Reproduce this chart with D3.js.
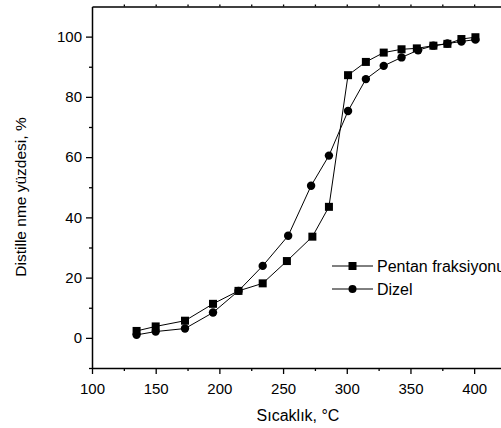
<!DOCTYPE html>
<html>
<head>
<meta charset="utf-8">
<script src="https://cdn.jsdelivr.net/npm/d3@7/dist/d3.min.js"></script>
<style>
  body { margin: 0; background: #fff; }
  svg { display: block; font-family: "Liberation Sans", Arial, sans-serif; }
  .line { fill: none; stroke: #000; stroke-width: 1; }
</style>
</head>
<body>
<script>
// temperatures (°C) and distilled fraction (%)
const pentanTemp = [135, 150, 173, 195, 215, 234, 253, 273, 286, 301, 315, 329, 343, 355, 368, 379, 390, 401];
const pentanVal = [2.3, 3.8, 5.7, 11.3, 15.6, 18.1, 25.5, 33.6, 43.5, 87.2, 91.6, 94.7, 95.8, 96.1, 97.0, 97.6, 99.2, 99.8];
const dizelTemp = [135, 150, 173, 195, 215, 234, 254, 272, 286, 301, 315, 329, 343, 356, 368, 379, 390, 401];
const dizelVal = [1.0, 2.1, 3.1, 8.4, 15.6, 23.9, 33.9, 50.5, 60.5, 75.3, 85.9, 90.3, 93.1, 95.5, 97.0, 97.7, 98.4, 99.0];
const xTicks = [100, 150, 200, 250, 300, 350, 400];
const yTicks = [0, 20, 40, 60, 80, 100];
const seriesNames = ['Pentan fraksiyonu', 'Dizel'];

const W = 501, H = 428;
const margin = { top: 6.5, right: -5, bottom: 60, left: 92 };
const width = W - margin.left - margin.right;
const height = H - margin.top - margin.bottom;

const svg = d3.select('body').append('svg').attr('width', W).attr('height', H);
const g = svg.append('g').attr('transform', `translate(${margin.left},${margin.top})`);

const x = d3.scaleLinear().domain([100, 425]).range([0, width]);
const y = d3.scaleLinear().domain([-10, 110]).range([height, 0]);

// minor ticks
const xMinor = d3.range(125, 425, 50);
const yMinor = d3.range(-10, 110, 20);

g.append('g').attr('transform', `translate(0,${height})`)
  .call(d3.axisBottom(x).tickValues(xTicks).tickSize(6).tickSizeOuter(0).tickPadding(9));
g.append('g').attr('transform', `translate(0,${height})`)
  .call(d3.axisBottom(x).tickValues(xMinor).tickSize(3).tickFormat(''))
  .select('.domain').remove();

g.append('g')
  .call(d3.axisLeft(y).tickValues(yTicks).tickSize(6).tickSizeOuter(0).tickPadding(4));
g.append('g')
  .call(d3.axisLeft(y).tickValues(yMinor).tickSize(3).tickFormat(''))
  .select('.domain').remove();

// top frame
g.append('g')
  .call(d3.axisTop(x).tickValues(d3.range(125, 425, 25)).tickSize(2).tickSizeOuter(0).tickFormat(''));

svg.selectAll('.domain').attr('stroke-width', 1.5);
svg.selectAll('.tick line').attr('stroke-width', 1.3);
svg.selectAll('.tick text').attr('font-size', 15).attr('fill', '#000');

const pentan = pentanTemp.map((t, i) => ({ t, v: pentanVal[i] }));
const dizel = dizelTemp.map((t, i) => ({ t, v: dizelVal[i] }));

const line = d3.line().x(d => x(d.t)).y(d => y(d.v));

g.append('path').datum(pentan).attr('class', 'line').attr('d', line);
g.append('path').datum(dizel).attr('class', 'line').attr('d', line);

g.selectAll('.sq').data(pentan).enter().append('rect')
  .attr('x', d => x(d.t) - 4).attr('y', d => y(d.v) - 4)
  .attr('width', 8).attr('height', 8).attr('fill', '#000');
g.selectAll('.dot').data(dizel).enter().append('circle')
  .attr('cx', d => x(d.t)).attr('cy', d => y(d.v)).attr('r', 4.2).attr('fill', '#000');

// legend
const legend = svg.append('g').attr('transform', 'translate(332,266)');
seriesNames.forEach((name, i) => {
  const row = legend.append('g').attr('transform', `translate(0,${i * 23})`);
  row.append('line').attr('x1', 0).attr('x2', 41).attr('y1', 0).attr('y2', 0)
    .attr('stroke', '#000').attr('stroke-width', 1);
  if (i === 0) {
    row.append('rect').attr('x', 16.5).attr('y', -4).attr('width', 8).attr('height', 8).attr('fill', '#000');
  } else {
    row.append('circle').attr('cx', 20.5).attr('cy', 0).attr('r', 4).attr('fill', '#000');
  }
  row.append('text').attr('x', 45).attr('y', 6).attr('font-size', 16).text(name);
});

// axis titles
svg.append('text').attr('x', 298).attr('y', 421)
  .attr('text-anchor', 'middle').attr('font-size', 16).text('Sıcaklık, °C');
svg.append('text')
  .attr('transform', 'translate(26,197) rotate(-90)')
  .attr('text-anchor', 'middle').attr('font-size', 15.5).text('Distille nme yüzdesi, %');
</script>
</body>
</html>
